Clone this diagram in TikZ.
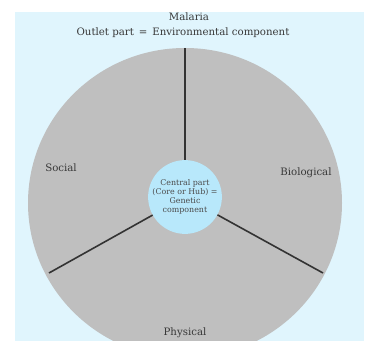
\documentclass[tikz,border=0pt]{standalone}
\usepackage{fontspec}
\setmainfont{DejaVu Serif}
\begin{document}
\begin{tikzpicture}[x=1pt,y=-1pt,
  lbl/.style={text=black!78, font=\fontsize{10.2}{12}\selectfont},
  spoke/.style={draw=black!80, line width=1.6pt},
  hubstyle/.style={circle, fill=cyan!28!white, minimum size=63pt, inner sep=0pt, align=center,
     text=black!70, font=\fontsize{7.9}{9}\selectfont}]
  \useasboundingbox (0,0) rectangle (367,347);
  \fill[white] (0,0) rectangle (367,347);
  \fill[cyan!12!white] (15,12) rectangle (364,341);
  \begin{scope}
    \clip (15,12) rectangle (364,341);
    \fill[black!25!white] (185,203) ellipse [x radius=157, y radius=155];
  \end{scope}
  \node[hubstyle] (hub) at (185,197) {Central part\\(Core or Hub) =\\Genetic\\component};
  \coordinate (top) at (185,48);
  \coordinate (lft) at (49,273);
  \coordinate (rgt) at (323,273);
  \draw[spoke, line width=2pt] (hub) -- (top);
  \draw[spoke] (hub) -- (lft);
  \draw[spoke] (hub) -- (rgt);
  \node[lbl] (mal) at (189,17) {Malaria};
  \node[lbl] (outlet) at (183,33) {Outlet part \,=\, Environmental component};
  \node[lbl] (soc) at (61,168) {Social};
  \node[lbl] (bio) at (306,173) {Biological};
  \node[lbl] (phy) at (185,333) {Physical};
\end{tikzpicture}
\end{document}
